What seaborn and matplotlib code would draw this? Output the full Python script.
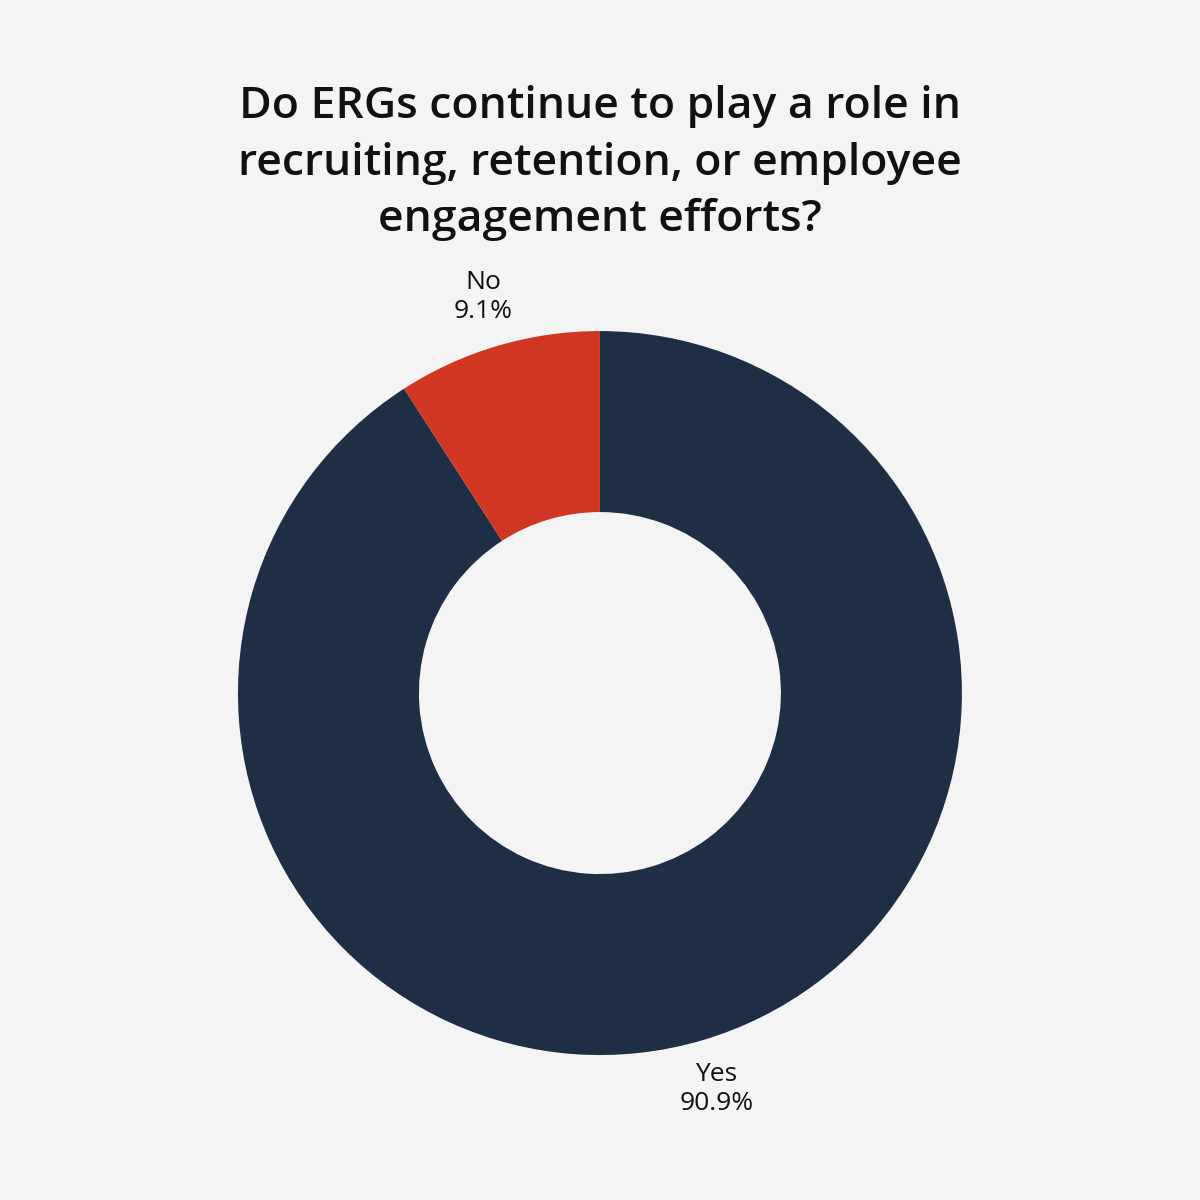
import matplotlib
matplotlib.use("Agg")
import matplotlib.pyplot as plt
import seaborn as sns

#----------DATA-----------------#
title = "Do ERGs continue to play a role in\nrecruiting, retention, or employee\nengagement efforts?"
answers = ["Yes", "No"]
shares = [90.9, 9.1]
colors = ["#1E2E44", "#D03621"]

BG = "#F4F4F4"

#----------STYLE----------------#
sns.set_theme(style="white")
plt.rcParams["font.family"] = ["Open Sans", "DejaVu Sans"]

fig = plt.figure(figsize=(12, 12), dpi=100, facecolor=BG)
ax = fig.add_axes([0.5 - 0.3017, 0.4225 - 0.3017, 0.6033, 0.6033])
ax.set_facecolor(BG)

#----------DONUT----------------#
labels = [f"{a}\n{s}%" for a, s in zip(answers, shares)]
wedges, texts = ax.pie(
    shares,
    labels=labels,
    colors=colors,
    startangle=90,
    counterclock=False,
    labeldistance=1.14,
    wedgeprops=dict(width=0.5, edgecolor="none"),
    textprops=dict(fontsize=19, color="#111111", linespacing=1.2),
)
for t in texts:
    t.set_ha("center")
    t.set_va("center")
ax.set_xlim(-1, 1)
ax.set_ylim(-1, 1)
ax.set_aspect("equal")

#----------TITLE----------------#
fig.text(0.5, 0.864, title, ha="center", va="center", fontsize=32,
         fontweight="semibold", color="#111111", linespacing=1.4)

plt.savefig("out.png", dpi=100, facecolor=BG)
